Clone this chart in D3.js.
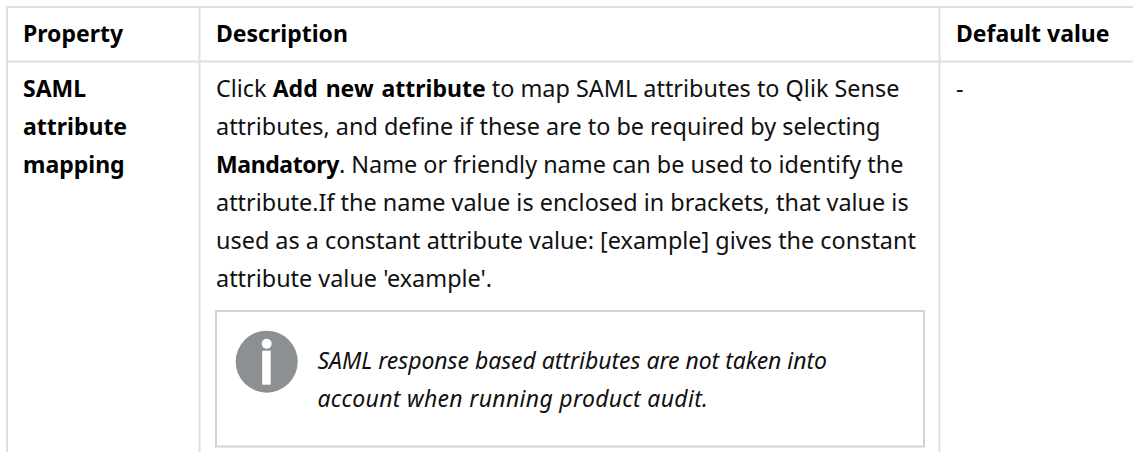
<!DOCTYPE html>
<html>
<head>
<meta charset="utf-8">
<script src="https://cdn.jsdelivr.net/npm/d3@7/dist/d3.min.js"></script>
<style>
  html, body { margin: 0; padding: 0; background: #fff; }
  svg { display: block; }
  text { font-family: "Noto Sans", sans-serif; font-size: 23.42px; fill: #111; }
  .head, .prop, .desc .strong { font-size: 23px; fill: #000; }
  .desc .strong { word-spacing: 2px; }
  .note { font-size: 23px; }
</style>
</head>
<body>
<div id="table"></div>
<script>
var headers = ["Property", "Description", "Default value"];
var propertyLines = ["SAML", "attribute", "mapping"];
var descriptionLines = [
    [["Click ", 0], ["Add new attribute", 1], [" to map SAML attributes to Qlik Sense", 0]],
    [["attributes, and define if these are to be required by selecting", 0]],
    [["Mandatory", 1], [". Name or friendly name can be used to identify the", 0]],
    [["attribute.If the name value is enclosed in brackets, that value is", 0]],
    [["used as a constant attribute value: [example] gives the constant", 0]],
    [["attribute value 'example'.", 0]]
];
var defaultLines = ["-"];
var noteLines = [
    "SAML response based attributes are not taken into",
    "account when running product audit."
];

var width = 1133, height = 452;

var svg = d3.select("#table")
    .append("svg")
    .attr("width", width)
    .attr("height", height);

// column left edges and text starts
var colEdge = d3.scaleOrdinal().domain(headers).range([7, 199.5, 939.5]);
var colText = d3.scaleOrdinal().domain(headers).range([23, 216, 956]);
// body line number to baseline
var lineY = d3.scaleLinear().domain([0, 1]).range([97, 135]);
var noteY = d3.scaleLinear().domain([0, 1]).range([369.3, 407]);

var grid = "#e0e0e0";

// table rules
svg.append("line").attr("x1", 7).attr("x2", width).attr("y1", 7).attr("y2", 7);
svg.append("line").attr("x1", 7).attr("x2", width).attr("y1", 61.5).attr("y2", 61.5);
svg.selectAll(".col")
    .data(headers)
    .enter()
    .append("line")
    .attr("class", "col")
    .attr("x1", function (d) { return colEdge(d); })
    .attr("x2", function (d) { return colEdge(d); })
    .attr("y1", 6)
    .attr("y2", height);
svg.selectAll("line").attr("stroke", grid).attr("stroke-width", 2);

// header row
svg.selectAll(".head")
    .data(headers)
    .enter()
    .append("text")
    .attr("class", "head")
    .attr("x", function (d) { return colText(d); })
    .attr("y", 42)
    .style("font-weight", "bold")
    .text(function (d) { return d; });

// first column
svg.selectAll(".prop")
    .data(propertyLines)
    .enter()
    .append("text")
    .attr("class", "prop")
    .attr("x", colText("Property"))
    .attr("y", function (d, i) { return lineY(i); })
    .style("font-weight", "bold")
    .text(function (d) { return d; });

// description with bold runs
svg.selectAll(".desc")
    .data(descriptionLines)
    .enter()
    .append("text")
    .attr("class", "desc")
    .attr("x", colText("Description"))
    .attr("y", function (d, i) { return lineY(i); })
    .attr("xml:space", "preserve")
    .selectAll("tspan")
    .data(function (d) { return d; })
    .enter()
    .append("tspan")
    .attr("class", function (d) { return d[1] ? "strong" : null; })
    .style("font-weight", function (d) { return d[1] ? "bold" : "normal"; })
    // the single bold word runs a little tighter in the reference
    .style("letter-spacing", function (d) { return d[0] == "Mandatory" ? "-0.4px" : null; })
    .text(function (d) { return d[0]; });

svg.selectAll(".def")
    .data(defaultLines)
    .enter()
    .append("text")
    .attr("class", "def")
    .attr("x", colText("Default value"))
    .attr("y", function (d, i) { return lineY(i); })
    .text(function (d) { return d; });

// note box
svg.append("rect")
    .attr("x", 216)
    .attr("y", 311)
    .attr("width", 708)
    .attr("height", 135.5)
    .attr("fill", "#fff")
    .attr("stroke", "#d3d3d3")
    .attr("stroke-width", 2);

var icon = svg.append("g").attr("transform", "translate(266.7,361.7)");
icon.append("circle").attr("r", 31).attr("fill", "#8c9093");
icon.append("circle").attr("cy", -18).attr("r", 5).attr("fill", "#fff");
icon.append("rect").attr("x", -4.5).attr("y", -11).attr("width", 8.5).attr("height", 34).attr("fill", "#fff");

svg.selectAll(".note")
    .data(noteLines)
    .enter()
    .append("text")
    .attr("class", "note")
    .attr("x", 317.5)
    .attr("y", function (d, i) { return noteY(i); })
    .style("font-style", "italic")
    .style("letter-spacing", function (d, i) { return i ? "0.3px" : "-0.04px"; })
    .text(function (d) { return d; });
</script>
</body>
</html>
